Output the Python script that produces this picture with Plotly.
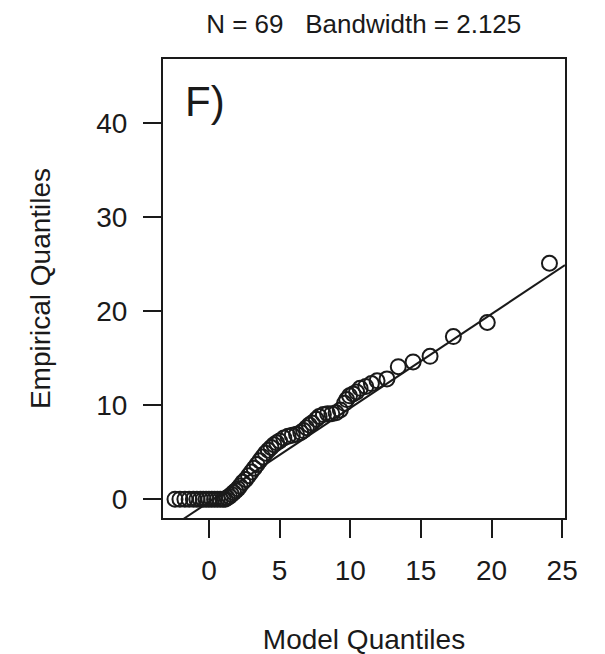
import plotly.graph_objects as go

# квантили модели (x) и эмпирические квантили (y)
model_q = [
    -2.4, -2.05, -1.7, -1.4, -1.1, -0.85, -0.6, -0.4, -0.2, 0.0, 0.2, 0.4, 0.6, 0.8, 1.0, 1.15,
    1.3, 1.45, 1.6, 1.75, 1.9, 2.05, 2.2, 2.4, 2.6, 2.8, 3.0, 3.2, 3.4, 3.6, 3.8, 4.0,
    4.2, 4.4, 4.6, 4.8, 5.0, 5.3, 5.6, 5.9,
    6.2, 6.5, 6.7, 6.9, 7.1, 7.3, 7.6, 7.8, 8.1, 8.4, 8.7, 9.0, 9.3, 9.6,
    9.75, 9.95, 10.2, 10.45, 10.7, 11.1, 11.5, 11.9, 12.6, 13.4, 14.45, 15.65, 17.3, 19.7, 24.1,
]
empirical_q = [
    0, 0, 0, 0, 0, 0, 0, 0, 0, 0, 0, 0, 0, 0, 0, 0,
    0.15, 0.3, 0.5, 0.7, 0.9, 1.1, 1.4, 1.8, 2.1, 2.5, 2.9, 3.3, 3.7, 4.1, 4.5, 4.9,
    5.2, 5.5, 5.8, 6.0, 6.2, 6.5, 6.7, 6.8,
    6.9, 7.1, 7.3, 7.6, 7.9, 8.1, 8.5, 8.8, 9.0, 9.1, 9.1, 9.2, 9.5, 10.2,
    10.6, 11.0, 11.2, 11.4, 11.8, 12.0, 12.3, 12.6, 12.8, 14.1, 14.6, 15.2, 17.3, 18.8, 25.1,
]

# опорная линия qqline
line_intercept = -0.3
line_slope = 1.0
line_x = [-3.25, 25.2]
line_y = [line_intercept + line_slope * v for v in line_x]

x_ticks = [0, 5, 10, 15, 20, 25]
y_ticks = [0, 10, 20, 30, 40]

FONT = "Liberation Sans, Arial, sans-serif"
INK = "#1a1a1a"

fig = go.Figure()

fig.add_trace(go.Scatter(
    x=line_x, y=line_y, mode="lines",
    line=dict(color=INK, width=2),
    showlegend=False, hoverinfo="skip",
))

fig.add_trace(go.Scatter(
    x=model_q, y=empirical_q, mode="markers",
    marker=dict(symbol="circle-open", size=15, color=INK, line=dict(width=2, color=INK)),
    showlegend=False,
))

axis_common = dict(
    showgrid=False, zeroline=False,
    showline=True, mirror=True, linecolor=INK, linewidth=2,
    ticks="outside", ticklen=18, tickwidth=2, tickcolor=INK,
    tickfont=dict(family=FONT, size=28, color=INK),
)

fig.update_xaxes(
    range=[-3.25, 25.2], tickvals=x_ticks,
    title=dict(text="Model Quantiles", font=dict(family=FONT, size=28, color=INK), standoff=45),
    ticklabelstandoff=8,
    **axis_common,
)
fig.update_yaxes(
    range=[-2.0, 46.83], tickvals=y_ticks,
    title=dict(text="Empirical Quantiles", font=dict(family=FONT, size=28, color=INK), standoff=37),
    ticklabelstandoff=10,
    **axis_common,
)

# страница открывается с отступом body 8px, поэтому поля сдвинуты
fig.update_layout(
    width=605, height=654,
    margin=dict(l=155, r=48, t=51, b=144),
    plot_bgcolor="white", paper_bgcolor="white",
    title=dict(
        text="N = 69   Bandwidth = 2.125",
        font=dict(family=FONT, size=26, color=INK),
        x=0.588, xanchor="center", y=1 - 16 / 654, yanchor="middle",
    ),
    annotations=[dict(
        text="F)", xref="paper", yref="paper", x=0.05, y=0.908,
        xanchor="left", yanchor="middle", showarrow=False,
        font=dict(family=FONT, size=42, color=INK),
    )],
)

fig.write_html("out.html")
